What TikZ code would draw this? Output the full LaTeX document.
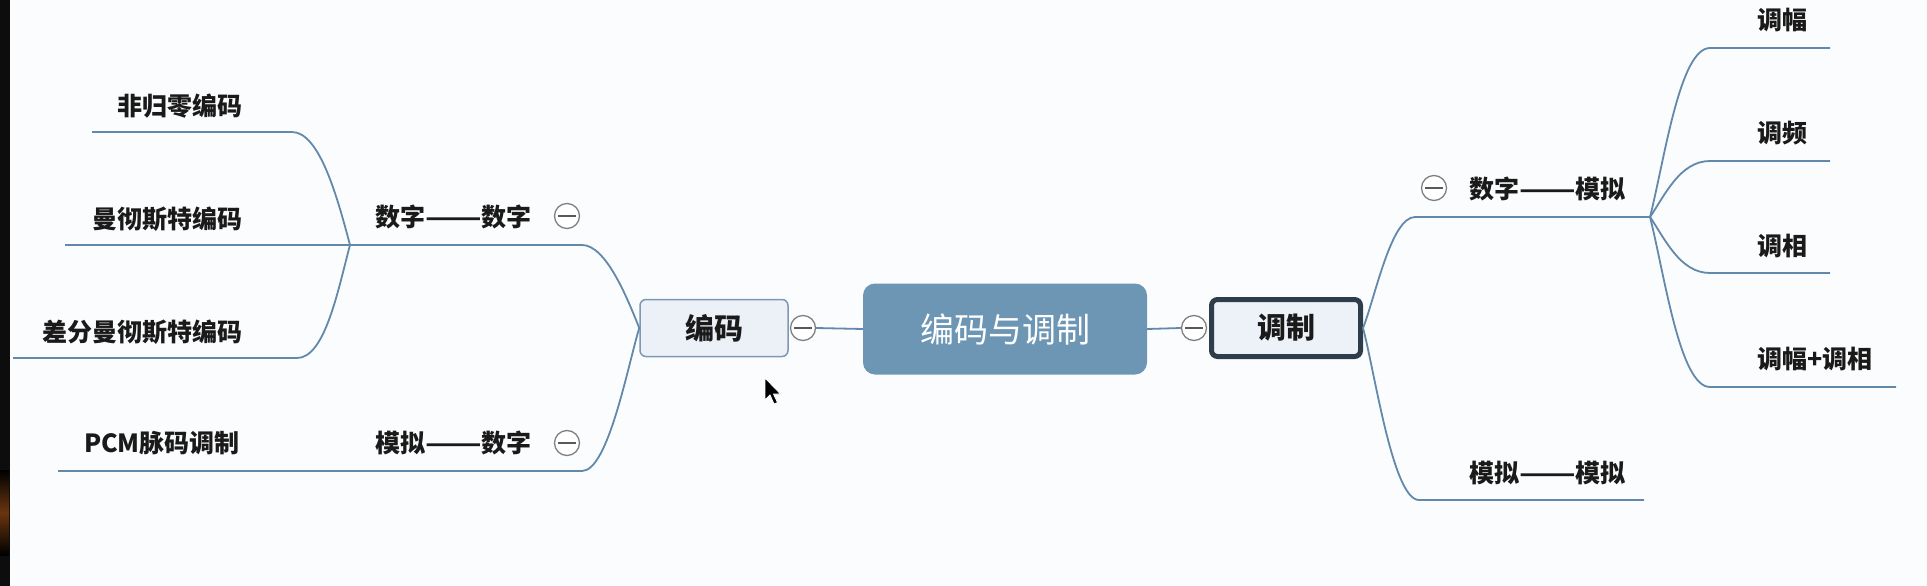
\documentclass[tikz,border=0pt]{standalone}
\usepackage{fontspec}
\usepackage{graphicx}
\newfontfamily\cjk{Noto Sans CJK SC}
\newcommand{\longdash}{\scalebox{1.32}[1]{——}}
\definecolor{bgc}{HTML}{FBFCFD}
\definecolor{linec}{HTML}{6289AB}
\definecolor{centerfill}{HTML}{6D96B5}
\definecolor{boxfill}{HTML}{EBF1F7}
\definecolor{boxline}{HTML}{7B99B5}
\definecolor{darkline}{HTML}{2E3D4C}
\definecolor{circline}{HTML}{808080}
\definecolor{txt}{HTML}{1A1A1A}
\definecolor{glow}{HTML}{6A3510}
\tikzset{
  branch/.style={draw=linec, line width=1.8pt},
  lbl/.style={font=\cjk\bfseries\fontsize{25}{30}\selectfont, inner sep=0pt, text=txt},
  collapse/.style={circle, minimum size=25pt, inner sep=0pt, draw=circline, line width=1.3pt, fill=white,
    path picture={\draw[line width=1.6pt, black!65] ([xshift=-9pt]path picture bounding box.center) -- ([xshift=9pt]path picture bounding box.center);}},
  subbox/.style={rectangle, rounded corners=6pt, fill=boxfill, draw=boxline, line width=1.5pt,
    minimum width=148pt, minimum height=57pt, inner sep=0pt, font=\cjk\bfseries\fontsize{29}{34}\selectfont, text=txt},
}
\begin{document}
\begin{tikzpicture}[x=1pt, y=-1pt]
\useasboundingbox (0,0) rectangle (1927,586);
\fill[bgc] (0,0) rectangle (1927,586);
% left dark strip
\fill[black!95] (0,0) rectangle (10,586);
\shade[top color=black, bottom color=black, middle color=glow] (0,470) rectangle (9,555);

% main nodes
\node[rectangle, rounded corners=12pt, fill=centerfill, minimum width=284pt, minimum height=91pt, inner sep=0pt,
  font=\cjk\fontsize{34}{40}\selectfont, text=white] (cm) at (1005,329) {编码与调制};
\node[subbox] (bm) at (714,328) {编码};
\node[subbox, draw=darkline, line width=5pt, fill=boxfill!90!white, minimum width=149pt, minimum height=57pt] (tz) at (1286,328) {调制};

\node[collapse] (c1) at (803,328) {};
\node[collapse] (c2) at (1194,328) {};
\node[collapse] (c3) at (567,216) {};
\node[collapse] (c4) at (567,443) {};
\node[collapse] (c5) at (1434,188) {};

% coordinates
\coordinate (jA) at (582,245);
\coordinate (jB) at (582,471);
\coordinate (J1) at (350,245);
\coordinate (e1) at (292,132);
\coordinate (e1e) at (92,132);
\coordinate (e2e) at (65,245);
\coordinate (e3) at (297,358);
\coordinate (e3e) at (13,358);
\coordinate (e4e) at (58,471);
\coordinate (jC) at (1415,217);
\coordinate (J2) at (1650,217);
\coordinate (jD) at (1419,500);
\coordinate (jDe) at (1644,500);
\coordinate (r1) at (1710,48);
\coordinate (r1e) at (1830,48);
\coordinate (r2) at (1710,161);
\coordinate (r2e) at (1830,161);
\coordinate (r3) at (1710,273);
\coordinate (r3e) at (1830,273);
\coordinate (r4) at (1710,387);
\coordinate (r4e) at (1896,387);

% connectors
\draw[branch] (cm.west) -- (c1.east);
\draw[branch] (cm.east) -- (c2.west);
\draw[branch] (bm.west) .. controls +(-12,-30) and +(24,0) .. (jA) -- (J1) -- (e2e);
\draw[branch] (bm.west) .. controls +(-12,40) and +(26,0) .. (jB) -- (e4e);
\draw[branch] (J1) .. controls +(-12,-45) and +(28,0) .. (e1) -- (e1e);
\draw[branch] (J1) .. controls +(-12,45) and +(28,0) .. (e3) -- (e3e);
\draw[branch] (tz.east) .. controls +(12,-30) and +(-24,0) .. (jC) -- (J2);
\draw[branch] (tz.east) .. controls +(12,45) and +(-26,0) .. (jD) -- (jDe);
\draw[branch] (J2) .. controls +(15,-60) and +(-30,0) .. (r1) -- (r1e);
\draw[branch] (J2) .. controls +(15,-22) and +(-30,0) .. (r2) -- (r2e);
\draw[branch] (J2) .. controls +(15,22) and +(-30,0) .. (r3) -- (r3e);
\draw[branch] (J2) .. controls +(15,60) and +(-30,0) .. (r4) -- (r4e);

% labels
\node[lbl, anchor=east] (t1) at (243,106) {非归零编码};
\node[lbl, anchor=east] (t2) at (243,219) {曼彻斯特编码};
\node[lbl, anchor=east] (t3) at (243,332) {差分曼彻斯特编码};
\node[lbl, anchor=east] (t4) at (240,443) {PCM脉码调制};
\node[lbl, anchor=west] (t5) at (375,217) {数字\longdash 数字};
\node[lbl, anchor=west] (t6) at (375,443) {模拟\longdash 数字};
\node[lbl, anchor=west] (t7) at (1469,189) {数字\longdash 模拟};
\node[lbl, anchor=west] (t8) at (1469,473) {模拟\longdash 模拟};
\node[lbl, anchor=west] (t9) at (1757,20) {调幅};
\node[lbl, anchor=west] (t10) at (1757,133) {调频};
\node[lbl, anchor=west] (t11) at (1757,246) {调相};
\node[lbl, anchor=west] (t12) at (1757,359) {调幅+调相};

% mouse pointer
\filldraw[fill=black, draw=white, line width=0.8pt] (765,378) -- ++(0,22) -- ++(5,-5) -- ++(4,9) -- ++(3.5,-1.5) -- ++(-4,-8.5) -- ++(7,0) -- cycle;
\end{tikzpicture}
\end{document}
